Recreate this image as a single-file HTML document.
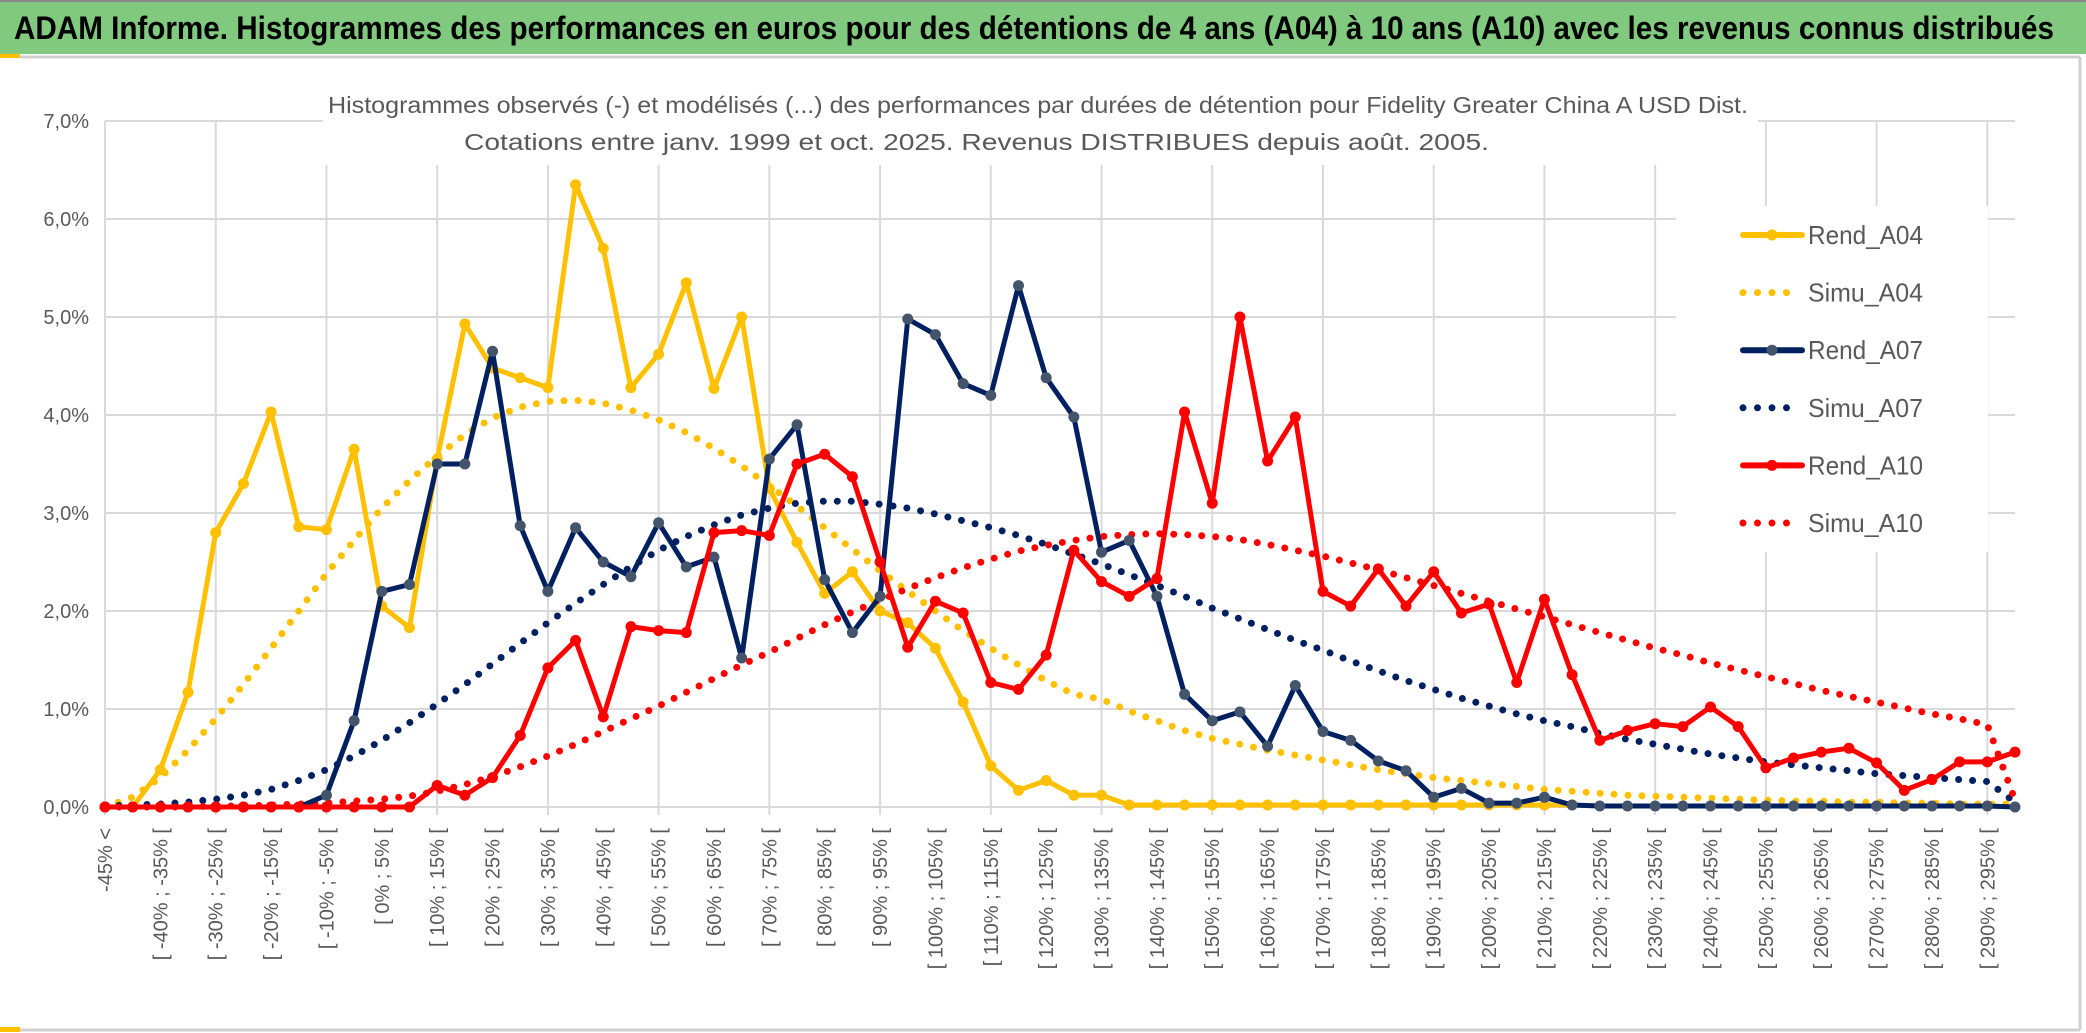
<!DOCTYPE html>
<html><head><meta charset="utf-8"><style>
html,body{margin:0;padding:0;background:#fff;}
svg{display:block;font-family:"Liberation Sans",sans-serif;}
</style></head><body>
<svg id="chart" width="2086" height="1033" viewBox="0 0 2086 1033" xmlns="http://www.w3.org/2000/svg">
<rect x="0" y="0" width="2086" height="1033" fill="#fff"/>
<rect x="0" y="0" width="2086" height="54" fill="#80c97f"/>
<line x1="0" y1="1" x2="2086" y2="1" stroke="#8a8a8a" stroke-width="2"/>
<text x="14" y="39" font-size="32" font-weight="bold" fill="#000" textLength="2040" lengthAdjust="spacingAndGlyphs">ADAM Informe. Histogrammes des performances en euros pour des détentions de 4 ans (A04) à 10 ans (A10) avec les revenus connus distribués</text>
<rect x="0" y="54" width="20" height="4" fill="#ffc000"/>
<line x1="20" y1="57" x2="2080" y2="57" stroke="#d0d0d0" stroke-width="3"/>
<line x1="2080" y1="57" x2="2080" y2="1030" stroke="#d0d0d0" stroke-width="3"/>
<line x1="0" y1="1030" x2="2080" y2="1030" stroke="#d0d0d0" stroke-width="3"/>
<rect x="0" y="1027" width="20" height="5" fill="#ffc000"/>
<g id="grid"></g>
<rect x="323" y="60" width="1435" height="105" fill="#fff"/>
<rect x="1676" y="206" width="312" height="346" fill="#fff"/>
<text x="328" y="113" font-size="23" fill="#595959" textLength="1420" lengthAdjust="spacingAndGlyphs">Histogrammes observés (-) et modélisés (...) des performances par durées de détention pour Fidelity Greater China A USD Dist.</text>
<text x="464" y="150" font-size="23" fill="#595959" textLength="1025" lengthAdjust="spacingAndGlyphs">Cotations entre janv. 1999 et oct. 2025. Revenus DISTRIBUES depuis août. 2005.</text>
<g id="axes"></g>
<g id="series"></g>
<g id="legend"></g>
</svg>
<script>
const categories = (function(){ const c=["-45% <"]; for(let v=-45; v<300; v+=5){ c.push("[ "+v+"% ; "+(v+5)+"% ["); } return c; })();
const yTicks = [0,1,2,3,4,5,6,7];
const yTickLabels = ["0,0%","1,0%","2,0%","3,0%","4,0%","5,0%","6,0%","7,0%"];
const rendA04 = [0,0,0.38,1.17,2.8,3.3,4.03,2.86,2.83,3.65,2.05,1.83,3.55,4.93,4.48,4.38,4.28,6.35,5.7,4.28,4.62,5.35,4.27,5.0,3.25,2.7,2.18,2.4,2.0,1.88,1.62,1.07,0.42,0.17,0.27,0.12,0.12,0.02,0.02,0.02,0.02,0.02,0.02,0.02,0.02,0.02,0.02,0.02,0.02,0.02,0.02,0.02,0.02,0.02,null,null,null,null,null,null,null,null,null,null,null,null,null,null,null,null];
const simuA04 = [0,0.1,0.3,0.58,0.9,1.25,1.62,2.0,2.38,2.72,3.05,3.33,3.58,3.8,3.97,4.08,4.14,4.15,4.12,4.05,3.95,3.82,3.66,3.48,3.28,3.07,2.85,2.63,2.41,2.2,2.0,1.8,1.62,1.45,1.29,1.15,1.1,0.98,0.88,0.78,0.7,0.64,0.58,0.53,0.48,0.43,0.38,0.34,0.3,0.27,0.24,0.21,0.18,0.16,0.14,0.12,0.11,0.1,0.09,0.08,0.07,0.06,0.06,0.05,0.05,0.04,0.04,0.03,0.03,0.03];
const rendA07 = [0,0,0,0,0,0,0,0,0.12,0.88,2.2,2.27,3.5,3.5,4.65,2.87,2.2,2.85,2.5,2.35,2.9,2.45,2.55,1.52,3.55,3.9,2.32,1.78,2.15,4.98,4.82,4.32,4.2,5.32,4.38,3.98,2.6,2.72,2.15,1.15,0.88,0.97,0.62,1.24,0.77,0.68,0.47,0.37,0.1,0.19,0.04,0.04,0.1,0.02,0.01,0.01,0.01,0.01,0.01,0.01,0.01,0.01,0.01,0.01,0.01,0.01,0.01,0.01,0.01,0];
const simuA07 = [0.01,0.02,0.03,0.05,0.08,0.12,0.18,0.27,0.38,0.52,0.68,0.86,1.05,1.25,1.46,1.67,1.88,2.08,2.27,2.45,2.62,2.76,2.88,2.98,3.05,3.1,3.12,3.12,3.09,3.05,2.99,2.92,2.85,2.77,2.68,2.58,2.48,2.37,2.26,2.15,2.03,1.92,1.81,1.7,1.6,1.49,1.39,1.29,1.2,1.11,1.03,0.95,0.88,0.82,0.75,0.69,0.64,0.59,0.54,0.5,0.46,0.43,0.4,0.37,0.34,0.32,0.3,0.28,0.26,0.05];
const rendA10 = [0,0,0,0,0,0,0,0,0,0,0,0,0.22,0.12,0.3,0.73,1.42,1.7,0.92,1.84,1.8,1.78,2.8,2.82,2.77,3.5,3.6,3.37,2.5,1.63,2.1,1.98,1.27,1.2,1.55,2.62,2.3,2.15,2.33,4.03,3.1,5.0,3.53,3.98,2.2,2.05,2.43,2.05,2.4,1.98,2.07,1.27,2.12,1.35,0.68,0.78,0.85,0.82,1.02,0.82,0.4,0.5,0.56,0.6,0.45,0.17,0.28,0.46,0.46,0.56];
const simuA10 = [0,0,0,0,0.01,0.01,0.02,0.03,0.04,0.06,0.08,0.11,0.16,0.23,0.31,0.41,0.52,0.64,0.77,0.9,1.03,1.17,1.31,1.45,1.58,1.72,1.86,1.99,2.11,2.23,2.34,2.44,2.53,2.61,2.67,2.72,2.76,2.78,2.79,2.78,2.76,2.73,2.68,2.62,2.56,2.49,2.42,2.34,2.26,2.18,2.1,2.02,1.94,1.86,1.78,1.7,1.62,1.55,1.47,1.4,1.33,1.26,1.19,1.13,1.07,1.01,0.95,0.9,0.84,0.07];

const NS="http://www.w3.org/2000/svg";
const X0=105, X1=2015, Y0=807, YTOP=121;
function xs(i){ return X0 + i*(X1-X0)/(categories.length-1); }
function ys(v){ return Y0 - v*(Y0-YTOP)/7; }
function mk(tag, attrs, parent){ const e=document.createElementNS(NS,tag); for(const k in attrs) e.setAttribute(k,attrs[k]); parent.appendChild(e); return e; }

const grid=document.getElementById('grid');
yTicks.forEach(t=>{
  const l=mk('line',{x1:X0,x2:X1,y1:ys(t),y2:ys(t),stroke:'#d9d9d9','stroke-width':2},grid);
  
  
});
for(let i=0;i<categories.length;i+=4){
  const l=mk('line',{x1:xs(i),x2:xs(i),y1:YTOP,y2:Y0+8,stroke:'#d9d9d9','stroke-width':2},grid);
  
  
}
const axes=document.getElementById('axes');
yTicks.forEach((t,k)=>{
  const tx=mk('text',{x:89,y:ys(t)+7,'text-anchor':'end','font-size':20,fill:'#595959'},axes);
  tx.textContent=yTickLabels[k];
  
  
});
categories.forEach((c,i)=>{
  if(i%2) return;
  const x=xs(i)+1, y=828;
  const tx=mk('text',{x:x,y:y,'text-anchor':'end','dominant-baseline':'central','font-size':20,fill:'#595959',transform:'rotate(-90 '+x+' '+y+')'},axes);
  tx.textContent=c;
  
  
});

const series=document.getElementById('series');
function drawLine(arr,color,marker,name){
  let d='';
  arr.forEach((v,i)=>{ if(v===null) return; d+=(d?'L':'M')+xs(i).toFixed(1)+' '+ys(v).toFixed(1); });
  const p=mk('path',{d:d,fill:'none',stroke:color,'stroke-width':5,'stroke-linejoin':'round'},series);
  
  
  arr.forEach((v,i)=>{
    if(v===null) return;
    const c=mk('circle',{cx:xs(i),cy:ys(v),r:5.5,fill:marker},series);
    
    
  });
}
function drawDots(arr,color,name){
  let d='';
  arr.forEach((v,i)=>{ if(v===null) return; d+=(d?'L':'M')+xs(i).toFixed(1)+' '+ys(v).toFixed(1); });
  const p=mk('path',{d:d,fill:'none',stroke:color,'stroke-width':7,'stroke-linecap':'round','stroke-dasharray':'0 14'},series);
  
  
}
drawDots(simuA04,'#ffc000','simu-a04');
drawDots(simuA07,'#002060','simu-a07');
drawDots(simuA10,'#ff0000','simu-a10');
drawLine(rendA04,'#ffc000','#ffc000','rend-a04');
drawLine(rendA07,'#002060','#44546a','rend-a07');
drawLine(rendA10,'#ff0000','#ff0000','rend-a10');

const legend=document.getElementById('legend');
const legendItems=[["Rend_A04",'#ffc000','solid','#ffc000'],["Simu_A04",'#ffc000','dot'],["Rend_A07",'#002060','solid','#44546a'],["Simu_A07",'#002060','dot'],["Rend_A10",'#ff0000','solid','#ff0000'],["Simu_A10",'#ff0000','dot']];
legendItems.forEach((it,k)=>{
  const y=235+k*57.6;
  const g=mk('g',{},legend);
  
  
  if(it[2]==='solid'){
    mk('line',{x1:1743,x2:1802,y1:y,y2:y,stroke:it[1],'stroke-width':6,'stroke-linecap':'round'},g);
    mk('circle',{cx:1772,cy:y,r:5.5,fill:it[3]},g);
  } else {
    mk('line',{x1:1743,x2:1800,y1:y,y2:y,stroke:it[1],'stroke-width':7,'stroke-linecap':'round','stroke-dasharray':'0 14.5'},g);
  }
  const t=mk('text',{x:1808,y:y+9,'font-size':26,fill:'#595959',textLength:115,lengthAdjust:'spacingAndGlyphs'},g);
  t.textContent=it[0];
});
</script>
</body></html>
